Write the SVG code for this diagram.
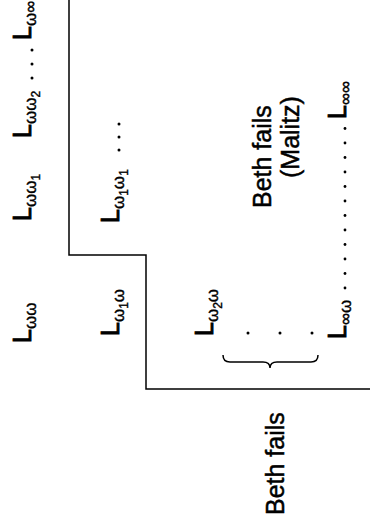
<svg xmlns="http://www.w3.org/2000/svg" width="370" height="530" viewBox="0 0 370 530">
<style>
  text { font-family: "Liberation Sans", Arial, sans-serif; fill: #000; stroke: #000; stroke-width: 0.5; }
  .L { font-size: 25px; stroke-width: 0.9; }
  .sub { font-size: 17px; stroke-width: 0.4; }
  .ss { font-size: 12px; stroke-width: 0.4; }
  .lbl { font-size: 25px; stroke-width: 0.5; }
  .dot { fill: #000; }
  .line { stroke: #000; stroke-width: 1.5; fill: none; }
</style>
<rect width="370" height="530" fill="#fff"/>
<g id="connectors">
  <path class="line" d="M69,0 V255 H146 V389 H370"/>
  <path class="line" d="M223,355 Q223,362 230,362 L263,362 Q270,362 270,368 Q270,362 277,362 L311,362 Q318,362 318,355"/>
</g>
<g id="L_ww" transform="translate(31,343) rotate(-90)"><text class="L">L<tspan class="sub" dy="5">ωω</tspan></text></g>
<g id="L_ww1" transform="translate(31,221) rotate(-90)"><text class="L">L<tspan class="sub" dy="5">ωω</tspan><tspan class="ss" dy="4">1</tspan></text></g>
<g id="L_ww2" transform="translate(31,138) rotate(-90)"><text class="L">L<tspan class="sub" dy="5">ωω</tspan><tspan class="ss" dy="4">2</tspan></text></g>
<g id="dots1"><circle class="dot" cx="32" cy="78" r="1.5"/><circle class="dot" cx="32" cy="64" r="1.5"/><circle class="dot" cx="32" cy="50" r="1.5"/></g>
<g id="L_winf" transform="translate(31,40) rotate(-90)"><text class="L">L<tspan class="sub" dy="5">ω∞</tspan></text></g>
<g id="L_w1w" transform="translate(119,336) rotate(-90)"><text class="L">L<tspan class="sub" dy="5">ω</tspan><tspan class="ss" dy="4">1</tspan><tspan class="sub" dy="-4">ω</tspan></text></g>
<g id="L_w1w1" transform="translate(119,223) rotate(-90)"><text class="L">L<tspan class="sub" dy="5">ω</tspan><tspan class="ss" dy="4">1</tspan><tspan class="sub" dy="-4">ω</tspan><tspan class="ss" dy="4">1</tspan></text></g>
<g id="dots2"><circle class="dot" cx="119" cy="150" r="1.5"/><circle class="dot" cx="119" cy="137" r="1.5"/><circle class="dot" cx="119" cy="124" r="1.5"/></g>
<g id="L_w2w" transform="translate(213,336) rotate(-90)"><text class="L">L<tspan class="sub" dy="5">ω</tspan><tspan class="ss" dy="4">2</tspan><tspan class="sub" dy="-4">ω</tspan></text></g>
<g id="dots3"><circle class="dot" cx="248" cy="333" r="1.5"/><circle class="dot" cx="280" cy="333" r="1.5"/><circle class="dot" cx="312" cy="333" r="1.5"/></g>
<g id="L_infw" transform="translate(346,339) rotate(-90)"><text class="L">L<tspan class="sub" dy="5">∞ω</tspan></text></g>
<g id="dots4">
  <circle class="dot" cx="345" cy="288" r="1.4"/><circle class="dot" cx="345" cy="273.5" r="1.4"/><circle class="dot" cx="345" cy="259" r="1.4"/><circle class="dot" cx="345" cy="244.5" r="1.4"/><circle class="dot" cx="345" cy="230" r="1.4"/><circle class="dot" cx="345" cy="215.5" r="1.4"/><circle class="dot" cx="345" cy="201" r="1.4"/><circle class="dot" cx="345" cy="186.5" r="1.4"/><circle class="dot" cx="345" cy="172" r="1.4"/><circle class="dot" cx="345" cy="157.5" r="1.4"/><circle class="dot" cx="345" cy="143" r="1.4"/><circle class="dot" cx="345" cy="128.5" r="1.4"/>
</g>
<g id="L_infinf" transform="translate(346,119) rotate(-90)"><text class="L">L<tspan class="sub" dy="5">∞∞</tspan></text></g>
<g id="beth_malitz">
  <text class="lbl" transform="translate(271,208) rotate(-90)">Beth fails</text>
  <text class="lbl" transform="translate(299,178) rotate(-90)">(Malitz)</text>
</g>
<g id="beth_bottom"><text class="lbl" transform="translate(284,515) rotate(-90)">Beth fails</text></g>
</svg>
